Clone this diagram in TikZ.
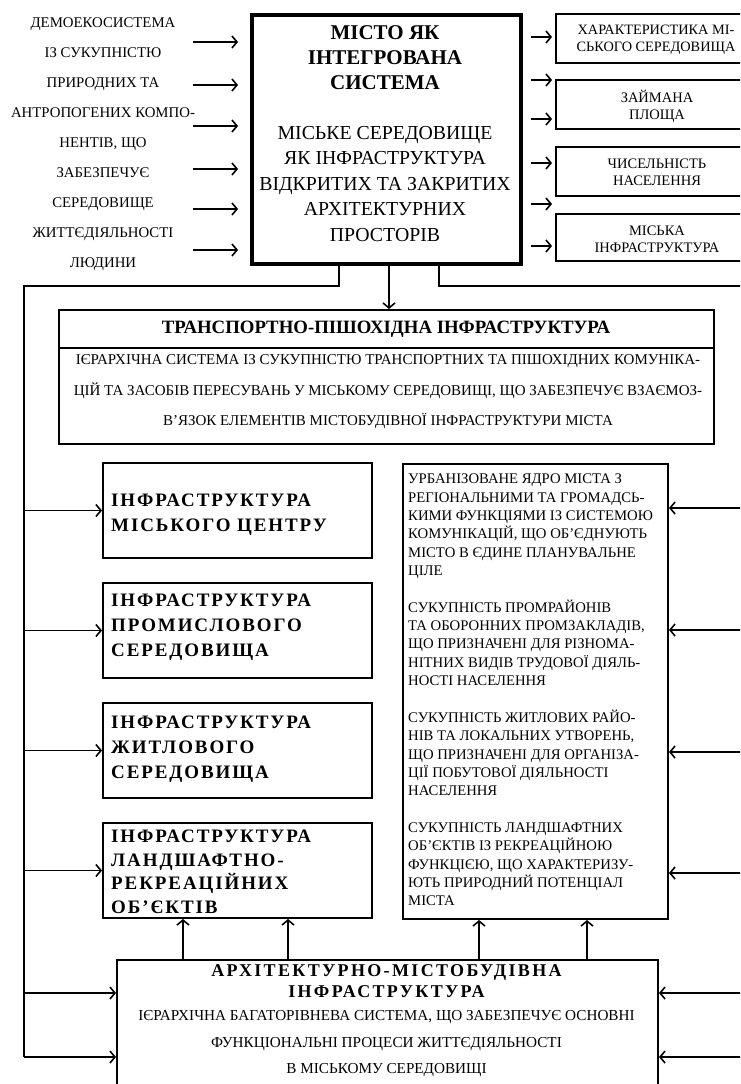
\documentclass[tikz,border=0pt]{standalone}
\usepackage{fontspec}
\setmainfont{Liberation Serif}
\newfontfamily\spcfont[LetterSpace=10]{Liberation Serif}
\newfontfamily\spcbfont[LetterSpace=13]{Liberation Serif}
\usetikzlibrary{arrows.meta}
\begin{document}
\begin{tikzpicture}[x=1pt,y=-1pt,
  box/.style={draw, line width=2pt, inner sep=0pt, anchor=north west},
  conn/.style={line width=1.6pt},
  arr/.style={line width=1.6pt, -{Straight Barb[length=5pt,width=12pt]}},
  txt/.style={inner sep=0pt, align=center},
  ltxt/.style={inner sep=0pt, align=left, anchor=west},
  sp/.style={font=\fontsize{19}{25}\spcfont\bfseries}]
\useasboundingbox (0,0) rectangle (740,1084);
\clip (0,0) rectangle (740,1084);

% ---------- top: city box ----------
\node[box, line width=4pt, minimum width=269pt, minimum height=249pt] (city) at (250,13) {};
\node[txt, font=\fontsize{21}{25}\selectfont\bfseries] (ctitle) at (385,58) {МІСТО ЯК\\ІНТЕГРОВАНА\\СИСТЕМА};
\node[txt, font=\fontsize{19.8}{25.5}\selectfont] (csub) at (385,184) {МІСЬКЕ СЕРЕДОВИЩЕ\\ЯК ІНФРАСТРУКТУРА\\ВІДКРИТИХ ТА ЗАКРИТИХ\\АРХІТЕКТУРНИХ\\ПРОСТОРІВ};

% left description column
\node[txt, font=\fontsize{14.8}{30}\selectfont] (demo) at (103,144) {ДЕМОЕКОСИСТЕМА\\ІЗ СУКУПНІСТЮ\\ПРИРОДНИХ ТА\\АНТРОПОГЕНИХ КОМПО-\\НЕНТІВ, ЩО\\ЗАБЕЗПЕЧУЄ\\СЕРЕДОВИЩЕ\\ЖИТТЄДІЯЛЬНОСТІ\\ЛЮДИНИ};
\foreach \dy in {29,72,113,156,196,237}
  \draw[arr] ([xshift=-57pt,yshift=-\dy pt]city.north west) -- ++(45,0);

% right small boxes
\node[box, minimum width=205pt, minimum height=49pt] (b1) at (555,13) {};
\node[box, minimum width=205pt, minimum height=49pt] (b2) at (555,79) {};
\node[box, minimum width=205pt, minimum height=49pt] (b3) at (555,146) {};
\node[box, minimum width=205pt, minimum height=47pt] (b4) at (555,213) {};
\node[txt, font=\fontsize{14.3}{17.5}\selectfont] (t1) at (656,40) {ХАРАКТЕРИСТИКА МІ-\\СЬКОГО СЕРЕДОВИЩА};
\node[txt, font=\fontsize{14.5}{17}\selectfont] (t2) at (657,106) {ЗАЙМАНА\\ПЛОЩА};
\node[txt, font=\fontsize{14.5}{17}\selectfont] (t3) at (657,172.5) {ЧИСЕЛЬНІСТЬ\\НАСЕЛЕННЯ};
\node[txt, font=\fontsize{14.5}{17}\selectfont] (t4) at (657,239) {МІСЬКА\\ІНФРАСТРУКТУРА};
\foreach \dy in {24,67,106,150,191,233}
  \draw[arr] ([xshift=8pt,yshift=-\dy pt]city.north east) -- ++(21,0);

% ---------- transport box ----------
\node[box, minimum width=655pt, minimum height=134pt] (trans) at (58,309) {};
\draw[line width=2pt] (58,348) -- (713,348);
\node[txt, font=\fontsize{18.8}{20}\selectfont\bfseries] (ttitle) at (386,329) {ТРАНСПОРТНО-ПІШОХІДНА ІНФРАСТРУКТУРА};
\node[txt, font=\fontsize{15}{30.5}\selectfont] (tbody) at (388,392) {ІЄРАРХІЧНА СИСТЕМА ІЗ СУКУПНІСТЮ ТРАНСПОРТНИХ ТА ПІШОХІДНИХ КОМУНІКА-\\ЦІЙ ТА ЗАСОБІВ ПЕРЕСУВАНЬ У МІСЬКОМУ СЕРЕДОВИЩІ, ЩО ЗАБЕЗПЕЧУЄ ВЗАЄМОЗ-\\В'ЯЗОК ЕЛЕМЕНТІВ МІСТОБУДІВНОЇ ІНФРАСТРУКТУРИ МІСТА};

% ---------- left boxes ----------
\node[box, minimum width=269pt, minimum height=95pt] (L1) at (102,462) {};
\node[box, minimum width=269pt, minimum height=95pt] (L2) at (102,582) {};
\node[box, minimum width=269pt, minimum height=95pt] (L3) at (102,702) {};
\node[box, minimum width=269pt, minimum height=95pt] (L4) at (102,822) {};
\node[ltxt, sp] (l1t) at (111,515) {ІНФРАСТРУКТУРА\\МІСЬКОГО ЦЕНТРУ};
\node[ltxt, sp] (l2t) at (111,627) {ІНФРАСТРУКТУРА\\ПРОМИСЛОВОГО\\СЕРЕДОВИЩА};
\node[ltxt, sp] (l3t) at (111,749) {ІНФРАСТРУКТУРА\\ЖИТЛОВОГО\\СЕРЕДОВИЩА};
\node[ltxt, font=\fontsize{19}{23.5}\spcfont\bfseries] (l4t) at (111,872) {ІНФРАСТРУКТУРА\\ЛАНДШАФТНО-\\РЕКРЕАЦІЙНИХ\\ОБ’ЄКТІВ};

% ---------- right big box ----------
\node[box, minimum width=265pt, minimum height=455pt] (R) at (402,463) {};
\node[ltxt, font=\fontsize{14.7}{18.35}\selectfont] (rt) at (408,690) {УРБАНІЗОВАНЕ ЯДРО МІСТА З\\РЕГІОНАЛЬНИМИ ТА ГРОМАДСЬ-\\КИМИ ФУНКЦІЯМИ ІЗ СИСТЕМОЮ\\КОМУНІКАЦІЙ, ЩО ОБ'ЄДНУЮТЬ\\МІСТО В ЄДИНЕ ПЛАНУВАЛЬНЕ\\ЦІЛЕ\\[18.35pt]СУКУПНІСТЬ ПРОМРАЙОНІВ\\ТА ОБОРОННИХ ПРОМЗАКЛАДІВ,\\ЩО ПРИЗНАЧЕНІ ДЛЯ  РІЗНОМА-\\НІТНИХ ВИДІВ ТРУДОВОЇ ДІЯЛЬ-\\НОСТІ НАСЕЛЕННЯ\\[18.35pt]СУКУПНІСТЬ ЖИТЛОВИХ РАЙО-\\НІВ ТА ЛОКАЛЬНИХ УТВОРЕНЬ,\\ЩО ПРИЗНАЧЕНІ ДЛЯ ОРГАНІЗА-\\ЦІЇ ПОБУТОВОЇ ДІЯЛЬНОСТІ\\НАСЕЛЕННЯ\\[18.35pt]СУКУПНІСТЬ ЛАНДШАФТНИХ\\ОБ'ЄКТІВ ІЗ РЕКРЕАЦІЙНОЮ\\ФУНКЦІЄЮ, ЩО ХАРАКТЕРИЗУ-\\ЮТЬ ПРИРОДНИЙ ПОТЕНЦІАЛ\\МІСТА};

% ---------- bottom box ----------
\node[box, minimum width=541pt, minimum height=150pt] (bot) at (116,959) {};
\node[txt, font=\fontsize{18}{21}\spcbfont\bfseries] (bt) at (386.5,981) {АРХІТЕКТУРНО-МІСТОБУДІВНА\\ІНФРАСТРУКТУРА};
\node[txt, font=\fontsize{15.2}{26.5}\selectfont] (bb) at (386.5,1044) {ІЄРАРХІЧНА БАГАТОРІВНЕВА СИСТЕМА, ЩО ЗАБЕЗПЕЧУЄ ОСНОВНІ\\ФУНКЦІОНАЛЬНІ ПРОЦЕСИ ЖИТТЄДІЯЛЬНОСТІ\\В МІСЬКОМУ СЕРЕДОВИЩІ};

% ---------- connectors ----------
\coordinate (lt) at (24,286);
\coordinate (rx) at (745,286);
\path ([xshift=-47.5pt]city.south) coordinate (cl)
      ([xshift=2.5pt]city.south) coordinate (cm)
      ([xshift=52.5pt]city.south) coordinate (cr);
\path ([yshift=-34pt]bot.north west) coordinate (bl1)
      ([yshift=-98pt]bot.north west) coordinate (bl2)
      ([yshift=-34pt]bot.north east) coordinate (br1)
      ([yshift=-98pt]bot.north east) coordinate (br2);
\draw[conn] (cl) |- (lt) -- (lt |- bl2);
\draw[arr] (cm) -- (cm |- trans.north);
\draw[conn] (cr) |- (rx);
\foreach \n in {L1,L2,L3,L4}
  \draw[arr] (lt |- \n.west) -- (\n.west);
\draw[arr] (lt |- bl1) -- (bl1);
\draw[arr] (lt |- bl2) -- (bl2);
\foreach \dy in {45,167,289,410}
  \draw[arr] ([yshift=-\dy pt]R.north east -| rx) -- ([yshift=-\dy pt]R.north east);
\draw[arr] (rx |- br1) -- (br1);
\draw[arr] (rx |- br2) -- (br2);
\foreach \dx in {67,172}
  \draw[arr] ([xshift=\dx pt]bot.north west) -- ([xshift=\dx pt]bot.north west |- L4.south);
\foreach \dx in {363,471}
  \draw[arr] ([xshift=\dx pt]bot.north west) -- ([xshift=\dx pt]bot.north west |- R.south);
\end{tikzpicture}
\end{document}
